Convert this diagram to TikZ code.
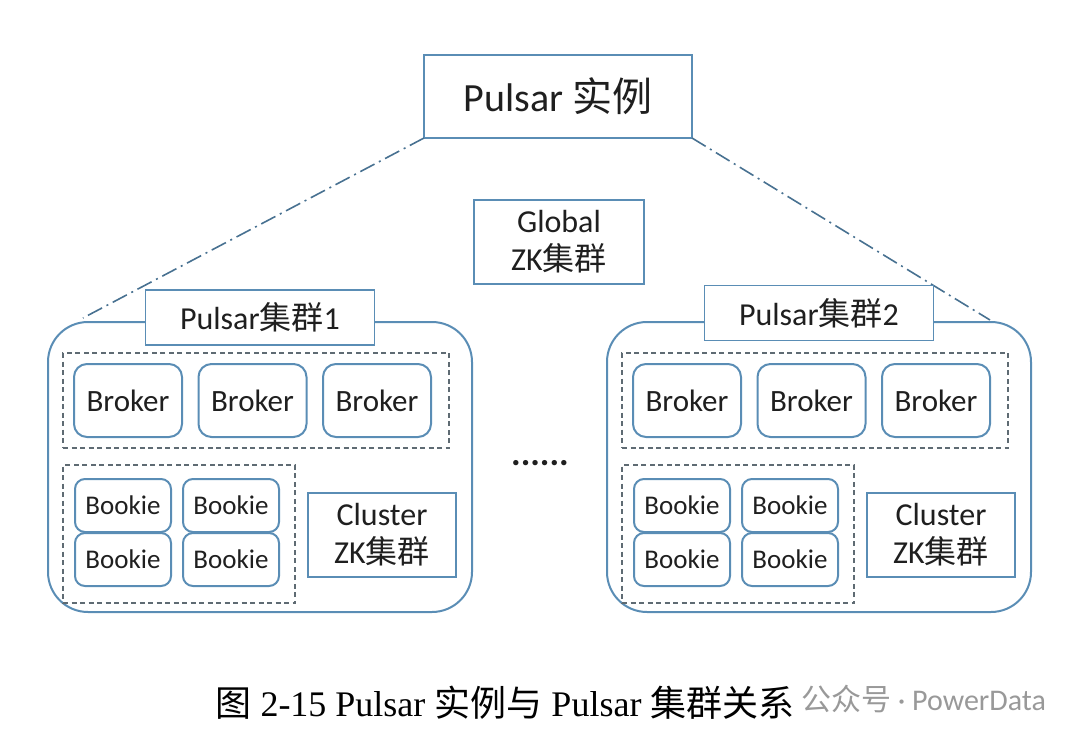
\documentclass[tikz,border=0pt]{standalone}
\usepackage{fontspec}
\setmainfont{Carlito}
\newfontfamily\zhfont{Noto Sans CJK SC}
\newfontfamily\capfont{Liberation Serif}
\usetikzlibrary{positioning}
\definecolor{boxblue}{HTML}{5A8DB5}
\definecolor{dashgray}{HTML}{5F6B73}
\newcommand{\zh}[1]{{\zhfont #1}}

\begin{document}
\begin{tikzpicture}[x=1pt,y=-1pt,
  every node/.style={align=center,inner sep=0pt,outer sep=0pt,text=black!88},
  topbox/.style={rectangle,draw=boxblue,line width=1.8pt,fill=white,
                 minimum width=268pt,minimum height=83pt,font=\fontsize{40}{44}\selectfont},
  zkbox/.style={rectangle,draw=boxblue,line width=1.8pt,fill=white,
                font=\fontsize{32}{38}\selectfont},
  cluster/.style={rectangle,rounded corners=40pt,draw=boxblue,line width=2pt,
                  minimum width=424pt,minimum height=290pt},
  grp/.style={rectangle,draw=dashgray,line width=1.4pt,dash pattern=on 5pt off 3.5pt},
  broker/.style={rectangle,rounded corners=13pt,draw=boxblue,line width=2pt,
                 minimum width=108pt,minimum height=73pt,font=\fontsize{31}{36}\selectfont},
  bookie/.style={rectangle,rounded corners=10pt,draw=boxblue,line width=2pt,
                 minimum width=96pt,minimum height=53pt,font=\fontsize{27}{32}\selectfont},
  link/.style={draw=boxblue!80!black,line width=1.6pt,
               dash pattern=on 16pt off 5pt on 2pt off 5pt},
]
\useasboundingbox (0,0) rectangle (1080,742);

% instance and global zookeeper
\node[topbox] (inst) at (558,96.5) {Pulsar \zh{实例}};
\node[zkbox,minimum width=170pt,minimum height=84pt] (gzk) at (559,242) {Global\\ZK\zh{集群}};

\coordinate (l1end) at (83,318);
\coordinate (l2end) at (990,320);
\draw[link] (inst.south west) -- (l1end);
\draw[link] (inst.south east) -- (l2end);

% the two clusters
\foreach \c/\dx/\ly in {1/0/317.5,2/559/313} {
  \begin{scope}[xshift=\dx pt]
    \node[cluster] (cl\c) at (260,467) {};
    \node[zkbox,minimum width=229pt,minimum height=55pt] (lbl\c) at (260,\ly) {Pulsar\zh{集群}\c};
    \node[grp,minimum width=386pt,minimum height=95pt] (brk\c) at (256,400.5) {};
    \node[broker] (br\c1) at (128,400.5) {Broker};
    \node[broker,right=16.5pt of br\c1] (br\c2) {Broker};
    \node[broker,right=16.5pt of br\c2] (br\c3) {Broker};
    \node[grp,minimum width=232pt,minimum height=138pt] (bkg\c) at (179,534) {};
    \node[bookie] (bk\c1) at (123,505.5) {Bookie};
    \node[bookie,right=12pt of bk\c1] (bk\c2) {Bookie};
    \node[bookie,below=1pt of bk\c1] (bk\c3) {Bookie};
    \node[bookie,below=1pt of bk\c2] (bk\c4) {Bookie};
    \node[zkbox,minimum width=148pt,minimum height=84pt] (czk\c) at (382,535) {Cluster\\ZK\zh{集群}};
  \end{scope}
}

\node[font=\bfseries\fontsize{36}{40}\selectfont] (dots) at (540,463) {......};

% caption and watermark
\node[font=\capfont\fontsize{36}{40}\selectfont,text=black] (caption) at (505,703)
  {\zh{图} 2-15 Pulsar \zh{实例与} Pulsar \zh{集群关系}};
\node[anchor=east,font=\fontsize{30}{34}\selectfont,text=black!40] (mark) at (1046,699)
  {\zh{公众号} · PowerData};
\end{tikzpicture}
\end{document}
